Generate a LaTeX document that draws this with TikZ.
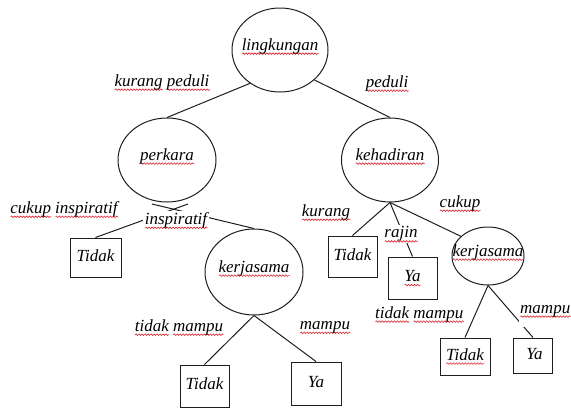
\documentclass[tikz,border=0pt]{standalone}
\usepackage{fontspec}
\setmainfont{Liberation Serif}
\usetikzlibrary{shapes.geometric,calc,decorations.pathmorphing}
\definecolor{squigred}{RGB}{220,35,45}
\definecolor{ink}{RGB}{30,30,30}
% red wavy underline, as a spell checker draws it
\newsavebox\chkbox
\newcommand\chk[1]{\sbox\chkbox{#1}%
  \rlap{\smash{\tikz[baseline=0pt]\draw[squigred, line width=0.6pt, decorate,
      decoration={snake, amplitude=0.8pt, segment length=3pt}]
      (0pt,-3.6pt) -- (\wd\chkbox,-3.6pt);}}%
  \usebox\chkbox}
% text that takes no room, so the ellipse keeps its own size
\newcommand\ctext[1]{\makebox[0pt]{\smash{#1}}}

\begin{document}
\begin{tikzpicture}[x=1pt,y=-1pt,
  font=\fontsize{17}{20}\selectfont\itshape,
  attr/.style={ellipse, draw=ink, line width=1pt, inner sep=0pt},
  leaf/.style={rectangle, draw=ink, line width=1pt, inner sep=0pt,
               text height=7pt, text depth=0pt},
  edge/.style={draw=ink, line width=1pt},
  val/.style={inner sep=1.5pt},
  valw/.style={val, fill=white}]
\useasboundingbox (0,0) rectangle (571,408);

% attribute nodes
\node[attr, minimum width=96, minimum height=84] (root) at (280,50) {\ctext{\chk{lingkungan}}};
\node[attr, minimum width=98, minimum height=84] (perkara) at (167,160) {\ctext{\chk{perkara}}};
\node[attr, minimum width=97, minimum height=84] (kehadiran) at (390,160) {\ctext{\chk{kehadiran}}};
\node[attr, minimum width=98, minimum height=86] (kerjaA) at (254,272) {\ctext{\chk{kerjasama}}};
\node[attr, minimum width=72, minimum height=58] (kerjaB) at (488,256) {\ctext{\chk{kerjasama}}};

% leaf nodes
\node[leaf, minimum width=51, minimum height=39] (tidakA) at (95.5,257.5) {Tidak};
\node[leaf, minimum width=49, minimum height=41] (tidakB) at (352.5,256.5) {Tidak};
\node[leaf, minimum width=49, minimum height=42] (yaA) at (412.5,278) {\chk{Ya}};
\node[leaf, minimum width=49, minimum height=42] (tidakC) at (204.5,386) {Tidak};
\node[leaf, minimum width=50, minimum height=43] (yaB) at (316,383.5) {Ya};
\node[leaf, minimum width=50, minimum height=37] (tidakD) at (465,356.5) {\chk{Tidak}};
\node[leaf, minimum width=39, minimum height=35] (yaC) at (533,355.5) {\hspace{3pt}Ya};

% branches
\draw[edge] (root.228) -- (perkara.north);
\draw[edge] (root.319) -- (kehadiran.north);
\draw[edge] (tidakA.north) -- ($(perkara.center)+(21,44)$);
\draw[edge] (kerjaA.north) -- ($(perkara.center)+(-15,44)$);
\draw[edge] (kerjaA.south) -- (tidakC.north);
\draw[edge] (kerjaA.south) -- (yaB.north);
\draw[edge] (kehadiran.south) -- (tidakB.north);
\draw[edge] (kehadiran.south) -- (yaA.north);
\draw[edge] (kehadiran.south) -- (kerjaB.144);
\draw[edge] (kerjaB.south) -- (tidakD.north);
\draw[edge] (kerjaB.south) -- (yaC.north);

% branch values
\node[val] (v1) at (162,82) {\chk{kurang} \chk{peduli}};
\node[val] (v2) at (387,83) {\chk{peduli}};
\node[val] (v3) at (64,209) {\chk{cukup} \chk{inspiratif}};
\node[valw] (v4) at (176,220) {\chk{inspiratif}};
\node[val] (v5) at (326,212) {\chk{kurang}};
\node[valw] (v6) at (401,234) {\chk{rajin}};
\node[val] (v7) at (460,203) {\chk{cukup}};
\node[val] (v8) at (179,327) {\chk{tidak} \chk{mampu}};
\node[val] (v9) at (325,327) {\chk{mampu}};
\node[valw, anchor=base west, text depth=9pt] (v10) at (373.5,318)
  {\chk{tidak} \chk{mampu}\hspace{10pt}};
\node[valw, anchor=base west, text depth=12pt] (v11) at (518.5,313) {\chk{mampu}};
\end{tikzpicture}
\end{document}
